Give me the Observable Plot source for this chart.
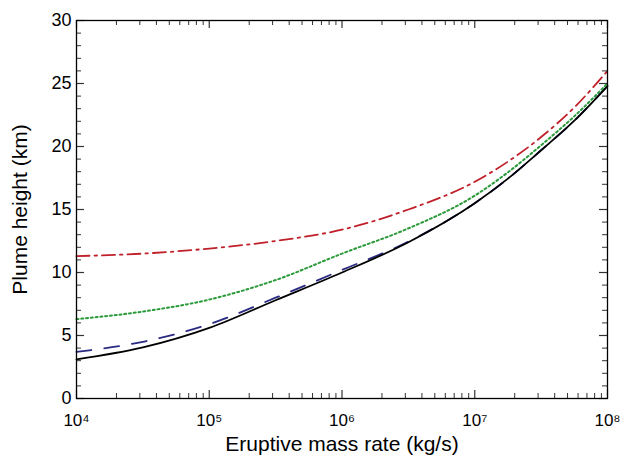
<!DOCTYPE html>
<html>
<head>
<meta charset="utf-8">
<script src="https://cdn.jsdelivr.net/npm/d3@7"></script>
<script src="https://cdn.jsdelivr.net/npm/@observablehq/plot@0.6"></script>
<style>
  html, body { margin: 0; padding: 0; background: #fff; }
</style>
</head>
<body>
<div id="chart"></div>
<script>
// Eruptive mass rate (kg/s) sample points
const massRate = [1e4, 10**4.5, 1e5, 10**5.5, 1e6, 10**6.5, 1e7, 10**7.25, 10**7.5, 10**7.75, 1e8];
// Plume height (km) for each curve
const solidH   = [3.1, 4.05, 5.6, 7.8, 10.0, 12.4, 15.5, 17.45, 19.7, 22.05, 24.8];
const dashedH  = [3.7, 4.5, 5.9, 8.0, 10.2, 12.45, 15.5, 17.45, 19.7, 22.05, 24.8];
const dottedH  = [6.3, 6.9, 7.85, 9.4, 11.5, 13.5, 16.1, 17.95, 20.1, 22.4, 25.0];
const dashDotH = [11.3, 11.5, 11.9, 12.5, 13.4, 15.0, 17.2, 18.8, 20.75, 23.1, 26.0];

const xMajor = [1e4, 1e5, 1e6, 1e7, 1e8];
const xLabels = ["10⁴", "10⁵", "10⁶", "10⁷", "10⁸"];
const yMajor = [0, 5, 10, 15, 20, 25, 30];
const yMinor = d3.range(0, 31, 1).filter(v => v % 5 !== 0);
const xMinor = [];
for (let e = 4; e < 8; e++) for (let m = 2; m <= 9; m++) xMinor.push(m * 10 ** e);

const toRows = (hs) => massRate.map((x, i) => ({x, y: hs[i]}));

const W = 622, H = 455;
const mL = 76, mR = 15, mT = 20, mB = 57;
const pw = W - mL - mR, ph = H - mT - mB;
const majLen = 8, minLen = 5;

const lineOpts = {x: "x", y: "y", curve: "monotone-x", strokeWidth: 1.8};

const chart = Plot.plot({
  width: W,
  height: H,
  marginLeft: mL,
  marginRight: mR,
  marginTop: mT,
  marginBottom: mB,
  style: {fontFamily: "'Liberation Sans', Arial, Helvetica, sans-serif", fontSize: "17px", background: "#fff", color: "#000"},
  x: {type: "log", domain: [1e4, 1e8], axis: null},
  y: {domain: [0, 30], axis: null},
  marks: [
    // curves
    Plot.line(toRows(dashedH), {...lineOpts, stroke: "#2a2a82", strokeDasharray: "15 13"}),
    Plot.line(toRows(solidH), {...lineOpts, stroke: "#000"}),
    Plot.line(toRows(dottedH), {...lineOpts, stroke: "#2a9a3a", strokeWidth: 2, strokeDasharray: "2 2.8"}),
    Plot.line(toRows(dashDotH), {...lineOpts, stroke: "#c0202a", strokeDasharray: "13 5 2.5 5"}),
    // inward ticks, bottom & top
    Plot.tickX(xMajor, {x: d => d, insetTop: ph - majLen, stroke: "#333", strokeWidth: 1.2}),
    Plot.tickX(xMinor, {x: d => d, insetTop: ph - minLen, stroke: "#333", strokeWidth: 1}),
    Plot.tickX(xMajor, {x: d => d, insetBottom: ph - majLen, stroke: "#333", strokeWidth: 1.2}),
    Plot.tickX(xMinor, {x: d => d, insetBottom: ph - minLen, stroke: "#333", strokeWidth: 1}),
    // inward ticks, left & right
    Plot.tickY(yMajor, {y: d => d, insetRight: pw - majLen, stroke: "#333", strokeWidth: 1.2}),
    Plot.tickY(yMinor, {y: d => d, insetRight: pw - minLen, stroke: "#333", strokeWidth: 1}),
    Plot.tickY(yMajor, {y: d => d, insetLeft: pw - majLen, stroke: "#333", strokeWidth: 1.2}),
    Plot.tickY(yMinor, {y: d => d, insetLeft: pw - minLen, stroke: "#333", strokeWidth: 1}),
    Plot.frame({stroke: "#000", strokeWidth: 1.3}),
    // tick labels
    Plot.text(xMajor, {x: d => d, frameAnchor: "bottom", lineAnchor: "middle", dy: 22, text: (d, i) => xLabels[i], fontSize: 17, fill: "#000"}),
    Plot.text(yMajor, {y: d => d, frameAnchor: "left", lineAnchor: "middle", dx: -5, textAnchor: "end", text: d => String(d), fontSize: 18, fill: "#000"}),
    // axis titles
    Plot.text(["Eruptive mass rate (kg/s)"], {frameAnchor: "bottom", lineAnchor: "middle", textAnchor: "middle", dy: 46, text: d => d, fontSize: 21, fill: "#000"}),
    Plot.text(["Plume height (km)"], {frameAnchor: "left", lineAnchor: "middle", textAnchor: "middle", dx: -56, rotate: -90, text: d => d, fontSize: 21, fill: "#000"})
  ]
});
document.getElementById("chart").appendChild(chart);
</script>
</body>
</html>
